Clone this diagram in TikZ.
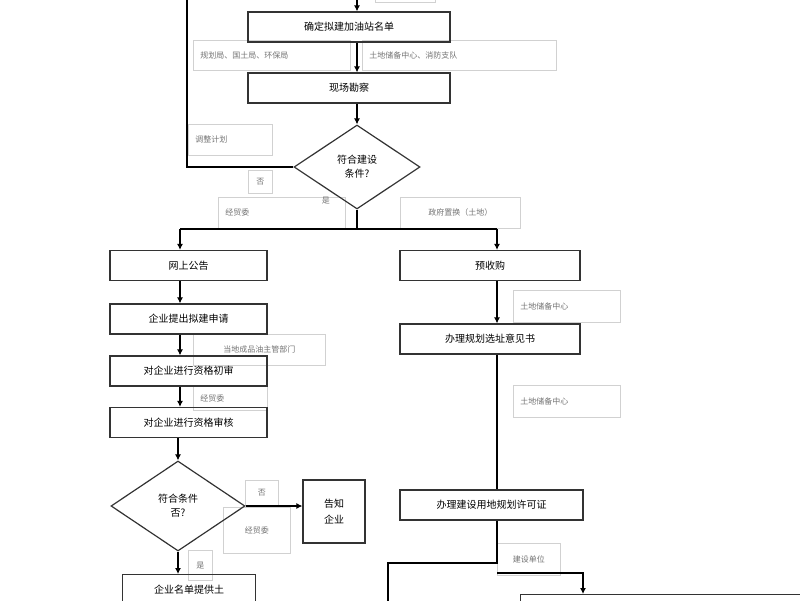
\documentclass[tikz,border=0pt]{standalone}
\usepackage{fontspec}
\setmainfont{Noto Sans CJK SC}
\usetikzlibrary{shapes.geometric,arrows.meta}
\begin{document}
\begin{tikzpicture}[x=1pt,y=-1pt,
  box/.style={draw=black!80,line width=1.2pt,minimum height=30pt,inner sep=0pt,font=\fontsize{10}{12}\selectfont},
  lab/.style={draw=black!18,line width=0.6pt,inner sep=0pt,anchor=north west,text=black!55,font=\fontsize{8}{10}\selectfont},
  labl/.style={lab,text width=#1,align=left,inner xsep=7pt},
  dia/.style={draw=black!80,line width=1.2pt,diamond,aspect=1.5,inner sep=0pt,align=center,font=\fontsize{10}{14}\selectfont},
  ar/.style={line width=1.1pt,-{Latex[length=6pt,width=6pt]}},
  ln/.style={line width=1.1pt}]
\useasboundingbox (0,0) rectangle (800,600);
% gray label boxes
\node[lab,minimum width=60pt,minimum height=3pt] at (375,-1) {};
\node[labl=143pt,minimum height=30pt] (l1) at (193,40) {规划局、国土局、环保局};
\node[labl=180pt,minimum height=30pt] (l2) at (362,40) {土地储备中心、消防支队};
\node[labl=70pt,minimum height=31pt] (l3) at (188,124) {调整计划};
\node[lab,minimum width=24pt,minimum height=23pt] (l4) at (248,170) {否};
\node[labl=113pt,minimum height=31pt] (l5) at (218,197) {经贸委};
\node[lab,minimum width=39pt,minimum height=21pt,draw=none] (l6) at (306,190) {是};
\node[lab,minimum width=120pt,minimum height=31pt] (l7) at (400,197) {政府置换（土地）};
\node[lab,minimum width=132pt,minimum height=31pt] (l8) at (193,334) {当地成品油主管部门};
\node[labl=60pt,minimum height=24pt] (l9) at (193,386) {经贸委};
\node[lab,minimum width=33pt,minimum height=25pt] (l10) at (245,480) {否};
\node[lab,minimum width=67pt,minimum height=46pt] (l11) at (223,507) {经贸委};
\node[lab,minimum width=24pt,minimum height=30pt] (l12) at (188,550) {是};
\node[labl=93pt,minimum height=32pt] (l13) at (513,290) {土地储备中心};
\node[labl=93pt,minimum height=32pt] (l14) at (513,385) {土地储备中心};
\node[lab,minimum width=63pt,minimum height=32pt] (l15) at (497,543) {建设单位};
% main boxes
\node[box,minimum width=202pt] (b1) at (349,27) {确定拟建加油站名单};
\node[box,minimum width=202pt] (b2) at (349,88) {现场勘察};
\node[dia,minimum width=126pt,minimum height=84pt] (d1) at (357,167) {符合建设\\条件?};
\node[box,minimum width=157pt] (b3) at (188.5,265.5) {网上公告};
\node[box,minimum width=180pt] (b4) at (490,265.5) {预收购};
\node[box,minimum width=157pt] (b5) at (188.5,319) {企业提出拟建申请};
\node[box,minimum width=157pt] (b6) at (188.5,371) {对企业进行资格初审};
\node[box,minimum width=157pt] (b7) at (188.5,422.5) {对企业进行资格审核};
\node[dia,minimum width=134pt,minimum height=90pt] (d2) at (178,506) {符合条件\\否?};
\node[box,minimum width=62pt,minimum height=63pt,align=center,font=\fontsize{10}{16}\selectfont] (b8) at (334,511.5) {告知\\企业};
\node[box,minimum width=133pt,anchor=north west] (b9) at (122,574) {企业名单提供土};
\node[box,minimum width=180pt] (b10) at (490,339) {办理规划选址意见书};
\node[box,minimum width=183pt] (b11) at (491.5,505) {办理建设用地规划许可证};
\node[box,minimum width=300pt,anchor=north west] (b12) at (520,594) {};
% connectors
\coordinate (top) at (357,-2);
\coordinate (lt) at (187,-2);
\draw[ar] (top) -- (b1.north -| top);
\draw[ar] (b1.south -| top) -- (b2.north -| top);
\draw[ar] (b2.south -| top) -- (d1.north);
\draw[ln] (d1.west) -- (187,167) -- (lt);
\coordinate (sp) at (357,229);
\draw[ln] (d1.south) -- (sp);
\draw[ln] (180,229) -- (497,229);
\draw[ar] (180,229) -- (b3.north -| 180,0);
\draw[ar] (497,229) -- (b4.north -| 497,0);
\draw[ar] (b3.south -| 180,0) -- (b5.north -| 180,0);
\draw[ar] (b5.south -| 180,0) -- (b6.north -| 180,0);
\draw[ar] (b6.south -| 180,0) -- (b7.north -| 180,0);
\draw[ar] (b7.south -| 178,0) -- (d2.north);
\draw[ar] (d2.east) -- (b8.west |- d2.east);
\draw[ar] (d2.south) -- (b9.north -| d2.south);
\draw[ar] (b4.south -| 497,0) -- (b10.north -| 497,0);
\draw[ln] (b10.south -| 497,0) -- (b11.north -| 497,0);
\draw[ln] (b11.south -| 497,0) -- (497,563) -- (388,563) -- (388,602);
\draw[ar] (497,573) -- (583,573) -- (b12.north -| 583,0);
\end{tikzpicture}
\end{document}
